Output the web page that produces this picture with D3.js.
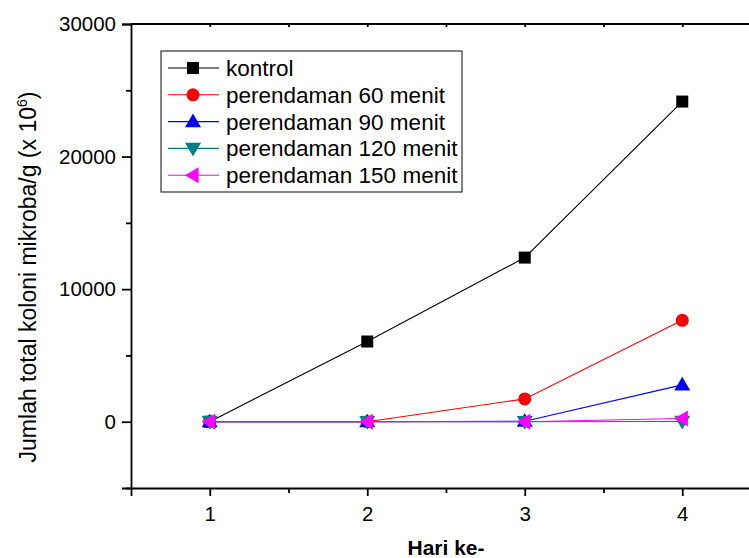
<!DOCTYPE html>
<html>
<head>
<meta charset="utf-8">
<script src="https://cdn.jsdelivr.net/npm/d3@7"></script>
<style>
  body { margin: 0; background: #fff; }
  text { font-family: Arial, "Liberation Sans", sans-serif; }
</style>
</head>
<body>
<script>
var days = [1, 2, 3, 4];
var seriesNames = ["kontrol", "perendaman 60 menit", "perendaman 90 menit",
                   "perendaman 120 menit", "perendaman 150 menit"];
var kontrol = [0, 6050, 12380, 24150];
var menit60 = [0, 0, 1720, 7650];
var menit90 = [0, 0, 40, 2780];
var menit120 = [0, 0, 0, 20];
var menit150 = [0, 0, 0, 240];
var yTicks = [0, 10000, 20000, 30000];
var xTicks = [1, 2, 3, 4];

var colors = ["#000000", "#ff0000", "#0000ff", "#008080", "#ff00ff"];
var symbols = ["square", "circle", "up", "down", "left"];
var allValues = [kontrol, menit60, menit90, menit120, menit150];

var svg = d3.select("body").append("svg")
    .attr("width", 749)
    .attr("height", 558);

var x = d3.scaleLinear().domain([0.5, 4.5]).range([131, 761]);
var y = d3.scaleLinear().domain([-5000, 30000]).range([488, 24]);

// frame top line
svg.append("line").attr("x1", 131).attr("x2", 761).attr("y1", y(30000)).attr("y2", y(30000))
    .style("stroke", "#000").style("stroke-width", 1.8);

svg.append("g")
    .attr("transform", "translate(0," + y(-5000) + ")")
    .call(d3.axisBottom(x).tickValues(xTicks).tickFormat(d3.format("d")).tickSize(8).tickPadding(10));
svg.append("g")
    .attr("transform", "translate(0," + y(-5000) + ")")
    .call(d3.axisBottom(x).tickValues([1.5, 2.5, 3.5, 4.5]).tickFormat("").tickSize(5))
    .select(".domain").remove();

svg.append("g")
    .attr("transform", "translate(" + x(0.5) + ",0)")
    .call(d3.axisLeft(y).tickValues(yTicks).tickFormat(d3.format("d")).tickSize(9).tickPadding(6));
svg.append("g")
    .attr("transform", "translate(" + x(0.5) + ",0)")
    .call(d3.axisLeft(y).tickValues([-5000, 5000, 15000, 25000]).tickFormat("").tickSize(5))
    .select(".domain").remove();

// top axis small ticks
svg.append("g")
    .attr("transform", "translate(0," + y(30000) + ")")
    .call(d3.axisTop(x).tickValues([1, 1.5, 2, 2.5, 3, 3.5, 4]).tickFormat("").tickSizeInner(-3).tickSizeOuter(0))
    .select(".domain").remove();

svg.selectAll(".domain").style("stroke-width", 1.8);
svg.selectAll(".tick line").style("stroke-width", 1.8);
svg.selectAll(".tick text").style("font-size", "20.5px").style("fill", "#000")
    .style("font-family", "Arial, 'Liberation Sans', sans-serif");

// axis titles
svg.append("text")
    .attr("x", x(2.5)).attr("y", 555)
    .attr("text-anchor", "middle")
    .style("font-size", "21px").style("font-weight", "bold")
    .text("Hari ke-");

var yt = svg.append("text")
    .attr("transform", "translate(36," + 277 + ") rotate(-90)")
    .attr("text-anchor", "middle")
    .style("font-size", "23px");
yt.append("tspan").text("Jumlah total koloni mikroba/g (x 10");
yt.append("tspan").attr("dy", -9).style("font-size", "14px").text("6");
yt.append("tspan").attr("dy", 9).text(")");

function marker(g, type, color, cx, cy) {
  if (type == "square") {
    g.append("rect").attr("x", cx - 6).attr("y", cy - 6).attr("width", 12).attr("height", 12).style("fill", color);
  } else if (type == "circle") {
    g.append("circle").attr("cx", cx).attr("cy", cy).attr("r", 6.5).style("fill", color);
  } else {
    var s = 8;
    var pts;
    if (type == "up") pts = [[cx, cy - s], [cx - s, cy + s * 0.7], [cx + s, cy + s * 0.7]];
    if (type == "down") pts = [[cx, cy + s], [cx - s, cy - s * 0.7], [cx + s, cy - s * 0.7]];
    if (type == "left") pts = [[cx - s, cy], [cx + s * 0.7, cy - s], [cx + s * 0.7, cy + s]];
    g.append("polygon").attr("points", pts.map(function(p) { return p.join(","); }).join(" ")).style("fill", color);
  }
}

var line = d3.line()
    .x(function(d, i) { return x(days[i]); })
    .y(function(d) { return y(d); });

allValues.forEach(function(vals, k) {
  var g = svg.append("g");
  g.append("path")
      .datum(vals)
      .attr("d", line)
      .style("fill", "none")
      .style("stroke", colors[k])
      .style("stroke-width", 1.1);
  vals.forEach(function(v, i) {
    marker(g, symbols[k], colors[k], x(days[i]), y(v));
  });
});

// legend
var leg = svg.append("g");
leg.append("rect")
    .attr("x", 161).attr("y", 51).attr("width", 301).attr("height", 141)
    .style("fill", "#fff").style("stroke", "#333").style("stroke-width", 1.2);
seriesNames.forEach(function(name, k) {
  var ly = 68 + k * 26.8;
  leg.append("line").attr("x1", 168).attr("x2", 219).attr("y1", ly).attr("y2", ly)
      .style("stroke", colors[k]).style("stroke-width", 1.1);
  marker(leg, symbols[k], colors[k], 193, ly);
  leg.append("text").attr("x", 226).attr("y", ly + 8)
      .style("font-size", "22.5px").text(name);
});
</script>
</body>
</html>
